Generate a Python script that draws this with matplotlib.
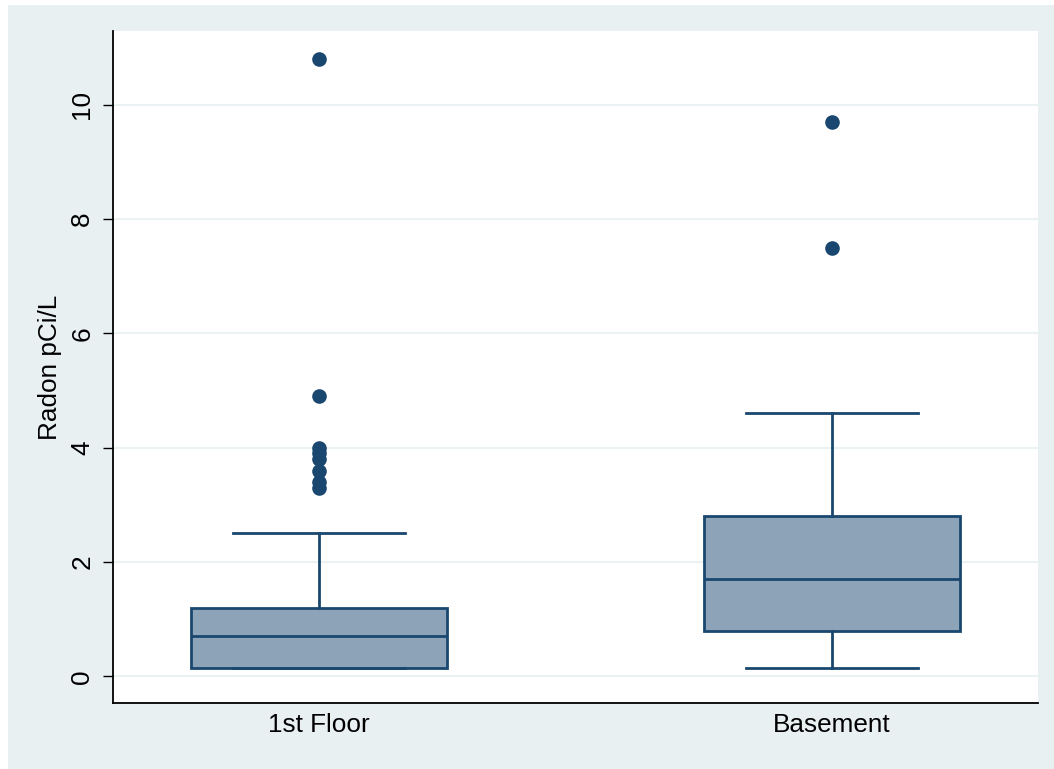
import matplotlib.pyplot as plt
from matplotlib.patches import Rectangle

plt.rcParams['font.family'] = ['Liberation Sans', 'DejaVu Sans']

# radon box plot values
groups = ['1st Floor', 'Basement']
q1 = [0.15, 0.8]
med = [0.7, 1.7]
q3 = [1.2, 2.8]
whislo = [0.15, 0.15]
whishi = [2.5, 4.6]
fliers_floor = [10.8, 4.9, 4.0, 3.9, 3.8, 3.6, 3.4, 3.3]
fliers_base = [9.7, 7.5]
yticks = [0, 2, 4, 6, 8, 10]

navy = '#1a476f'
fillc = '#8ca3b8'
bg = '#e9f0f2'
fs = 18.8

stats = []
for i, g in enumerate(groups):
    stats.append({'label': g, 'q1': q1[i], 'med': med[i], 'q3': q3[i],
                  'whislo': whislo[i], 'whishi': whishi[i],
                  'fliers': [fliers_floor, fliers_base][i]})

fig = plt.figure(figsize=(10.54, 7.69), dpi=100, facecolor='white')
fig.add_artist(Rectangle((8/1054, 0), 1 - 8/1054, 1 - 5/769, transform=fig.transFigure,
                         facecolor=bg, edgecolor='none', zorder=-10))
ax = fig.add_axes([113/1054, 1 - 703/769, (1038-113)/1054, (703-31)/769])
ax.set_zorder(1)
ax.set_facecolor('white')

ax.bxp(stats, positions=[1, 2], widths=0.5, capwidths=0.335, patch_artist=True,
       boxprops=dict(facecolor=fillc, edgecolor=navy, linewidth=2),
       medianprops=dict(color=navy, linewidth=2),
       whiskerprops=dict(color=navy, linewidth=2),
       capprops=dict(color=navy, linewidth=2),
       flierprops=dict(marker='o', markerfacecolor=navy, markeredgecolor=navy, markersize=9.5))

ax.set_xlim(0.598, 2.402)
ax.set_ylim(-0.467, 11.29)
ax.set_yticks(yticks)
ax.set_yticklabels([str(t) for t in yticks], rotation=90, va='center')
ax.yaxis.grid(True, color='#eaf2f3', linewidth=1.5)
ax.set_axisbelow(True)
ax.tick_params(axis='y', length=7.5, width=1, pad=6, labelsize=fs)
ax.tick_params(axis='x', length=0, pad=7, labelsize=fs)
ax.set_ylabel('Radon pCi/L', fontsize=fs, labelpad=6)

for s in ['top', 'right']:
    ax.spines[s].set_visible(False)
for s in ['left', 'bottom']:
    ax.spines[s].set_linewidth(1.3)

fig.savefig('out.png', dpi=100, facecolor='white')
